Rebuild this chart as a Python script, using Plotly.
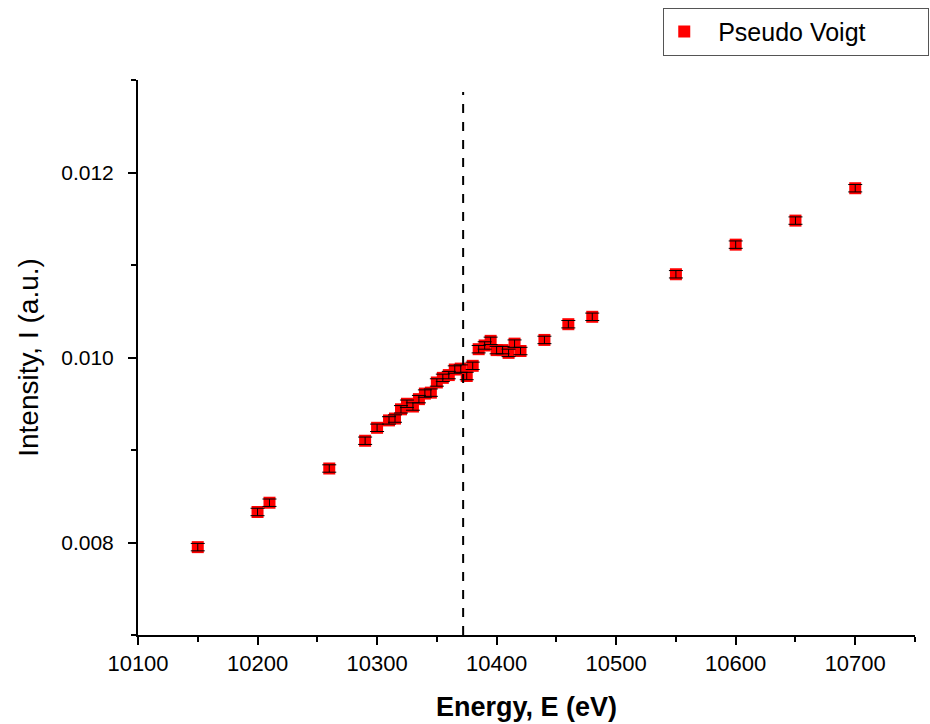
import plotly.graph_objects as go

energy = [10150, 10200, 10210, 10260, 10290, 10300, 10310, 10315, 10320, 10325,
          10330, 10335, 10340, 10345, 10350, 10355, 10360, 10365, 10370, 10375,
          10380, 10385, 10390, 10395, 10400, 10405, 10410, 10415, 10420,
          10440, 10460, 10480, 10550, 10600, 10650, 10700]
intensity = [0.00795, 0.00833, 0.00843, 0.00880, 0.00910, 0.00924, 0.00932, 0.00934, 0.00944, 0.00950,
             0.00947, 0.00955, 0.00961, 0.00962, 0.00973, 0.00978, 0.00981, 0.00987, 0.00988, 0.00980,
             0.00991, 0.01009, 0.01013, 0.01018, 0.01008, 0.01008, 0.01005, 0.01015, 0.01007,
             0.01019, 0.01036, 0.01044, 0.01090, 0.01122, 0.01148, 0.01183]
error = [0.00004] * len(energy)
edge_energy = 10372
edge_span = [0.007, 0.01287]

fig = go.Figure()
fig.add_trace(go.Scatter(
    x=energy, y=intensity, mode="markers", name="  Pseudo Voigt",
    marker=dict(symbol="square", color="#ff0000", size=12, line=dict(width=0)),
))
fig.add_trace(go.Scatter(
    x=energy, y=intensity, mode="markers", showlegend=False,
    marker=dict(size=1, color="rgba(0,0,0,0)"),
    error_y=dict(type="data", array=error, visible=True, color="black", thickness=1, width=7),
))
fig.add_trace(go.Scatter(
    x=[edge_energy, edge_energy], y=edge_span, mode="lines", showlegend=False,
    line=dict(color="black", width=2, dash="dash"),
))

fig.update_layout(
    width=930, height=724,
    margin=dict(l=138, r=15, t=80, b=89, autoexpand=False),
    paper_bgcolor="white", plot_bgcolor="white",
    font=dict(family="Liberation Sans, Arial, sans-serif", color="black"),
    showlegend=True,
    legend=dict(x=0.676, y=1.13, xanchor="left", yanchor="top", orientation="h",
                bordercolor="#555555", borderwidth=1, font=dict(size=25),
                entrywidth=219, itemsizing="constant"),
)
fig.update_xaxes(
    range=[10100, 10750], dtick=100, tick0=10100, tickformat="d",
    showline=True, linecolor="black", linewidth=2, showgrid=False, zeroline=False,
    ticks="outside", ticklen=8, tickwidth=2, tickcolor="black",
    minor=dict(dtick=50, ticks="outside", ticklen=5, tickwidth=2, tickcolor="black", showgrid=False),
    tickfont=dict(size=22),
    title=dict(text="<b>Energy, E (eV)</b>", font=dict(size=27), standoff=22),
)
fig.update_yaxes(
    range=[0.007, 0.013], dtick=0.002, tick0=0.008, tickformat=".3f",
    showline=True, linecolor="black", linewidth=2, showgrid=False, zeroline=False,
    ticks="outside", ticklen=8, tickwidth=2, tickcolor="black", ticklabelstandoff=10,
    minor=dict(dtick=0.001, ticks="outside", ticklen=5, tickwidth=2, tickcolor="black", showgrid=False),
    tickfont=dict(size=21),
    title=dict(text="Intensity, I (a.u.)", font=dict(size=28), standoff=14),
)

fig.write_html("out.html")
